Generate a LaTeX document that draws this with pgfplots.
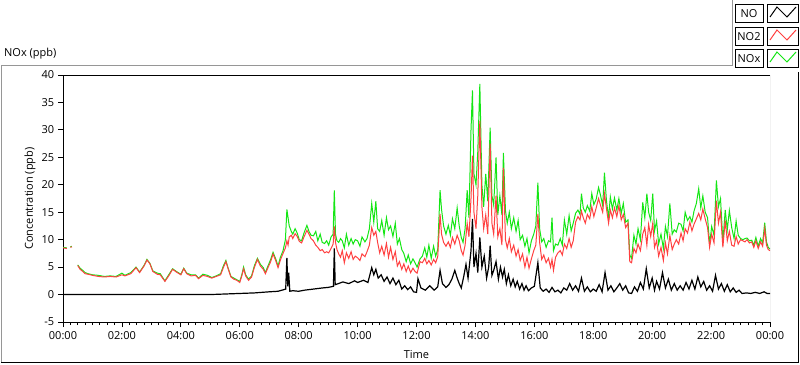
\documentclass[border=0pt]{standalone}
\usepackage{pgfplots}
\usepackage{pgfplotstable}
\pgfplotsset{compat=1.18}
\usepackage{fontspec}
\setmainfont{Open Sans}
\definecolor{noxc}{RGB}{20,230,20}
\definecolor{notwoc}{RGB}{255,64,64}
\definecolor{frameg}{RGB}{150,150,150}

\pgfplotstableread{
t no2 nox
0.00 8.5 8.6
0.13 8.4 8.5
0.17 nan nan
0.25 8.6 8.7
0.30 8.7 8.8
0.33 nan nan
0.50 5.3 5.4
0.58 4.6 4.8
0.65 4.3 4.5
0.75 3.8 4.0
0.85 3.7 3.8
1.00 3.5 3.6
1.20 3.3 3.5
1.40 3.2 3.3
1.60 3.3 3.4
1.80 3.2 3.3
2.00 3.6 3.9
2.10 3.4 3.5
2.30 3.8 4.0
2.48 4.9 5.0
2.60 4.0 4.1
2.75 5.2 5.3
2.85 6.3 6.4
2.95 5.6 5.7
3.05 4.2 4.3
3.20 3.7 3.9
3.30 3.6 3.8
3.46 2.4 2.5
3.60 3.5 3.7
3.72 4.6 4.7
3.85 4.1 4.2
4.00 3.6 3.7
4.10 4.7 4.8
4.20 3.8 3.9
4.35 3.4 3.6
4.50 3.5 3.6
4.60 2.9 3.0
4.75 3.5 3.7
4.90 3.3 3.5
5.05 3.0 3.1
5.20 3.3 3.4
5.35 3.6 3.8
5.45 5.0 5.3
5.53 6.0 6.2
5.60 4.8 4.9
5.70 3.2 3.3
5.80 2.8 3.0
5.90 2.6 2.7
6.00 2.2 2.4
6.07 3.4 3.6
6.13 4.7 5.0
6.20 3.4 3.6
6.30 2.6 2.8
6.40 3.2 3.4
6.50 5.0 5.3
6.60 6.4 6.6
6.70 5.2 5.5
6.80 4.6 4.9
6.87 3.8 4.0
6.95 4.8 5.1
7.05 6.0 6.4
7.13 7.4 7.7
7.22 6.2 6.5
7.30 4.9 5.2
7.38 6.3 6.8
7.47 7.5 8.0
7.55 8.5 10.0
7.60 9.8 15.5
7.64 9.0 14.0
7.68 10.5 12.5
7.75 10.8 11.5
7.80 10.2 11.0
7.88 11.1 12.0
7.95 10.6 11.2
8.02 9.7 10.0
8.10 9.4 9.8
8.18 10.5 11.2
8.28 11.7 12.6
8.35 11.0 11.5
8.42 10.2 10.8
8.50 9.8 10.7
8.58 9.0 11.5
8.65 8.6 9.8
8.73 8.0 11.0
8.80 8.2 9.5
8.88 7.6 9.3
8.95 7.8 9.8
9.02 7.6 9.0
9.10 8.4 10.5
9.17 9.2 11.0
9.21 12.4 19.0
9.25 9.5 11.0
9.30 8.2 9.8
9.36 7.4 9.5
9.42 6.8 10.2
9.48 8.0 9.8
9.55 5.8 8.5
9.62 7.6 11.0
9.70 6.6 9.0
9.78 7.8 10.2
9.85 6.4 9.2
9.92 7.0 10.0
10.00 6.7 9.8
10.08 6.2 8.8
10.15 7.4 10.5
10.25 6.9 9.6
10.32 7.8 10.2
10.40 9.0 12.0
10.48 12.2 16.6
10.55 10.8 13.2
10.62 11.5 17.0
10.68 9.5 12.0
10.75 7.6 11.5
10.82 8.8 13.5
10.90 7.2 10.8
10.98 9.3 14.0
11.05 6.8 11.8
11.12 8.6 12.5
11.20 6.4 10.6
11.28 7.8 13.0
11.35 5.2 9.2
11.42 6.0 10.2
11.50 4.6 8.2
11.57 5.6 7.5
11.65 4.2 6.0
11.72 5.2 7.2
11.80 4.0 5.6
11.88 4.8 6.5
11.95 4.2 5.8
12.02 3.9 5.0
12.12 6.0 6.5
12.20 5.8 7.0
12.28 6.6 8.5
12.35 5.6 6.8
12.42 6.2 9.0
12.50 5.4 6.6
12.58 6.4 8.8
12.65 5.8 7.0
12.72 6.9 8.2
12.80 14.7 19.0
12.85 11.0 15.5
12.92 9.5 12.5
13.00 8.8 11.0
13.08 9.6 12.6
13.15 8.6 10.8
13.22 10.4 13.8
13.30 9.2 12.0
13.38 10.8 15.8
13.45 9.8 12.5
13.52 8.0 10.4
13.58 7.2 9.5
13.65 9.0 12.0
13.72 13.0 19.0
13.78 10.5 14.0
13.85 17.5 30.0
13.90 25.3 37.2
13.95 15.0 22.0
14.02 12.0 20.0
14.08 18.0 26.0
14.15 31.7 38.4
14.22 16.0 20.0
14.28 12.0 16.0
14.35 14.5 22.0
14.42 11.0 17.0
14.50 27.5 30.4
14.56 13.0 18.0
14.62 11.0 16.3
14.70 18.0 25.0
14.76 10.5 14.5
14.83 12.0 18.0
14.90 9.0 14.5
14.95 23.1 25.8
15.02 10.0 15.3
15.08 8.5 13.0
15.15 10.2 15.0
15.22 7.8 12.0
15.30 9.0 14.0
15.38 7.0 11.5
15.45 8.2 13.5
15.52 6.2 10.0
15.60 7.4 10.8
15.68 5.0 8.8
15.75 6.8 10.2
15.82 4.8 7.6
15.90 6.5 9.8
15.98 8.0 11.0
16.05 9.0 12.5
16.12 14.7 20.4
16.18 9.5 12.0
16.25 6.4 9.6
16.32 7.2 10.2
16.40 5.8 8.6
16.48 6.6 9.8
16.55 5.0 9.6
16.60 6.4 14.0
16.65 4.4 8.0
16.72 6.8 9.2
16.80 7.6 9.0
16.88 8.0 10.2
16.95 7.2 9.0
17.02 9.2 13.6
17.10 8.4 11.0
17.18 10.2 14.4
17.25 8.6 11.6
17.32 9.8 13.0
17.40 13.2 14.8
17.48 14.2 15.4
17.55 13.6 14.6
17.60 15.2 18.4
17.66 14.0 15.8
17.73 13.0 15.0
17.80 14.6 16.2
17.88 13.8 15.2
17.95 16.0 18.4
18.02 14.2 16.4
18.10 15.8 17.4
18.18 17.5 19.5
18.25 16.2 18.0
18.32 15.0 16.2
18.38 18.4 22.2
18.45 15.6 17.0
18.52 13.0 14.0
18.58 15.4 17.8
18.65 14.0 15.6
18.72 15.8 17.6
18.80 14.2 15.4
18.87 16.2 17.5
18.95 13.6 14.8
19.02 14.6 16.6
19.10 12.2 13.2
19.18 13.0 13.6
19.24 6.0 7.2
19.30 5.8 6.6
19.38 8.4 10.8
19.45 7.6 9.2
19.52 9.2 12.0
19.60 8.0 10.0
19.68 11.0 16.8
19.75 12.2 14.0
19.82 9.0 18.4
19.88 12.8 15.0
19.95 10.6 13.5
20.02 13.0 18.4
20.08 8.6 11.6
20.15 9.8 13.4
20.22 7.0 9.2
20.30 8.6 11.0
20.38 6.2 8.4
20.45 9.4 12.4
20.52 7.4 10.6
20.60 10.8 16.6
20.68 8.2 11.0
20.75 9.2 11.8
20.82 10.0 11.4
20.90 9.2 13.0
20.98 11.2 12.8
21.05 9.8 11.6
21.12 12.0 15.0
21.20 11.2 13.5
21.28 13.2 14.2
21.35 11.6 13.2
21.42 12.8 15.2
21.50 13.8 16.6
21.58 14.8 19.3
21.65 13.6 15.8
21.72 15.6 18.0
21.80 13.8 15.0
21.88 12.2 14.0
21.95 8.6 9.2
22.02 11.0 12.4
22.10 9.4 10.8
22.18 17.1 20.8
22.25 13.0 16.0
22.32 15.0 17.5
22.40 8.6 9.6
22.48 13.5 15.4
22.55 9.8 11.8
22.62 11.5 15.3
22.70 9.0 12.2
22.78 8.8 10.2
22.85 10.6 13.4
22.92 9.2 10.8
23.00 10.0 10.2
23.08 9.8 10.0
23.15 9.6 10.2
23.22 10.0 10.3
23.30 9.4 9.8
23.38 9.6 9.9
23.45 8.6 9.0
23.52 9.8 10.4
23.60 8.4 8.8
23.68 9.6 10.2
23.75 8.8 9.4
23.82 12.0 13.1
23.88 9.0 9.6
23.94 8.2 8.6
24.00 8.0 8.3
}\ntab

\pgfplotstableread{
t no
0 0
5.0 0
5.5 0.1
6.0 0.2
6.5 0.3
7.0 0.5
7.3 0.6
7.5 0.9
7.56 1.0
7.6 6.7
7.63 1.5
7.66 4.0
7.70 0.6
7.8 0.7
8.0 0.6
8.2 0.8
8.5 1.0
8.8 1.2
9.0 1.3
9.18 1.5
9.21 8.4
9.24 1.8
9.35 2.0
9.5 2.3
9.7 2.0
9.9 2.5
10.0 2.2
10.2 2.6
10.35 2.2
10.48 4.9
10.55 3.6
10.62 4.6
10.7 3.0
10.8 3.6
10.9 2.4
11.0 3.2
11.1 2.0
11.2 3.0
11.3 1.8
11.4 2.6
11.5 1.0
11.6 1.6
11.7 0.9
11.8 1.4
11.9 0.5
12.0 0.4
12.05 2.9
12.15 1.2
12.3 0.8
12.45 1.6
12.6 0.8
12.72 1.4
12.8 4.4
12.88 2.0
13.0 1.3
13.1 1.8
13.2 2.8
13.3 4.4
13.38 3.0
13.45 2.0
13.52 1.2
13.6 3.2
13.68 5.5
13.75 3.0
13.85 8.0
13.90 13.8
13.95 5.0
14.02 7.5
14.08 4.0
14.15 10.4
14.22 5.0
14.3 7.0
14.38 3.0
14.45 5.0
14.50 8.9
14.56 3.5
14.62 4.4
14.70 6.0
14.78 2.8
14.85 5.0
14.92 3.2
14.98 4.6
15.05 2.0
15.12 3.6
15.2 1.6
15.28 2.8
15.35 1.4
15.42 2.4
15.5 1.0
15.58 2.0
15.65 0.8
15.72 1.6
15.8 0.7
15.9 1.2
16.0 1.5
16.12 5.8
16.2 1.2
16.3 0.6
16.4 1.0
16.5 0.4
16.6 1.3
16.7 0.5
16.8 0.8
16.9 0.3
17.0 1.2
17.1 0.8
17.2 2.0
17.3 0.8
17.4 1.6
17.5 0.6
17.6 3.0
17.7 0.6
17.8 1.4
17.9 0.5
18.0 1.0
18.1 0.6
18.2 1.8
18.3 0.5
18.4 4.0
18.5 0.8
18.6 1.6
18.7 0.5
18.8 1.2
18.9 2.0
19.0 0.8
19.1 1.6
19.2 0.3
19.3 0.2
19.4 1.4
19.5 0.6
19.6 2.2
19.7 1.0
19.8 4.7
19.9 1.2
20.0 3.0
20.08 0.8
20.15 2.4
20.25 1.0
20.35 4.0
20.45 1.2
20.55 2.8
20.65 0.8
20.75 2.0
20.85 0.8
20.95 1.6
21.05 0.8
21.15 2.2
21.25 1.0
21.35 2.6
21.45 1.0
21.55 3.2
21.65 1.4
21.75 2.4
21.85 0.8
21.95 1.6
22.05 0.6
22.15 3.5
22.25 1.0
22.35 2.0
22.45 0.6
22.55 1.8
22.65 0.5
22.75 1.2
22.85 0.4
22.95 0.8
23.05 0.2
23.2 0.3
23.35 0.2
23.5 0.4
23.65 0.2
23.8 0.5
23.9 0.2
24.0 0.2
}\notab

\begin{document}
\fontsize{11bp}{13bp}\selectfont
\begin{tikzpicture}
\useasboundingbox (0,0) rectangle (800bp,365bp);
% outer frame
\draw[frameg, line width=1bp] (732bp,299bp) -- (1bp,299bp) -- (1bp,2bp);
\draw[black, line width=1bp] (1bp,2bp) -- (798.5bp,2bp) -- (798.5bp,293bp);
\draw[frameg, line width=1bp] (732bp,299bp) -- (732bp,365bp);
% title
\node[anchor=west, inner sep=0pt] at (4bp,311bp) {NOx (ppb)};
% legend
\foreach \lab/\col/\cy in {NO/black/14, NO2/notwoc/37, NOx/noxc/59}{
  \node[draw=black, line width=1bp, fill=white, minimum width=28bp, minimum height=18bp, inner sep=0pt] at (749bp,{(365-\cy)*1bp}) {\lab};
  \draw[black, line width=1bp, fill=white] (767.5bp,{(365-\cy-9)*1bp}) rectangle (798bp,{(365-\cy+9)*1bp});
  \draw[\col, line width=1bp] (770bp,{(365-\cy-3)*1bp}) -- (777bp,{(365-\cy+7)*1bp}) -- (787bp,{(365-\cy-3)*1bp}) -- (796bp,{(365-\cy+7)*1bp});
}
\begin{axis}[
  at={(63bp,43bp)}, anchor=south west,
  scale only axis, width=707bp, height=247bp,
  xmin=0, xmax=24, ymin=-5, ymax=40,
  axis x line*=bottom, axis y line*=left,
  axis line style={-, black, line width=1bp},
  xtick={0,2,...,24},
  xticklabels={00:00,02:00,04:00,06:00,08:00,10:00,12:00,14:00,16:00,18:00,20:00,22:00,00:00},
  minor x tick num=7,
  ytick={-5,0,5,10,15,20,25,30,35,40},
  tick align=outside,
  major tick length=5bp, minor tick length=3bp,
  tick style={black, line width=0.8bp},
  /pgf/number format/assume math mode=true,
  tick label style={font=\fontsize{11bp}{13bp}\selectfont},
  xticklabel style={yshift=-1bp},
  xlabel={Time}, ylabel={Concentration (ppb)},
  xlabel style={at={(axis description cs:0.5,-0.1336)}, anchor=center},
  ylabel style={at={(axis description cs:-0.0467,0.5)}, anchor=center},
  label style={font=\fontsize{11bp}{13bp}\selectfont},
  unbounded coords=jump,
]
\addplot[noxc, line width=1bp] table[x=t, y=nox] {\ntab};
\addplot[notwoc, line width=1bp] table[x=t, y=no2] {\ntab};
\addplot[black, line width=1.2bp] table[x=t, y=no] {\notab};
\draw[black, line width=1bp] (rel axis cs:0,1) -- (rel axis cs:1,1);
\draw[frameg, line width=1bp] (rel axis cs:1,1) -- (rel axis cs:1,0);
\end{axis}
\end{tikzpicture}
\end{document}
